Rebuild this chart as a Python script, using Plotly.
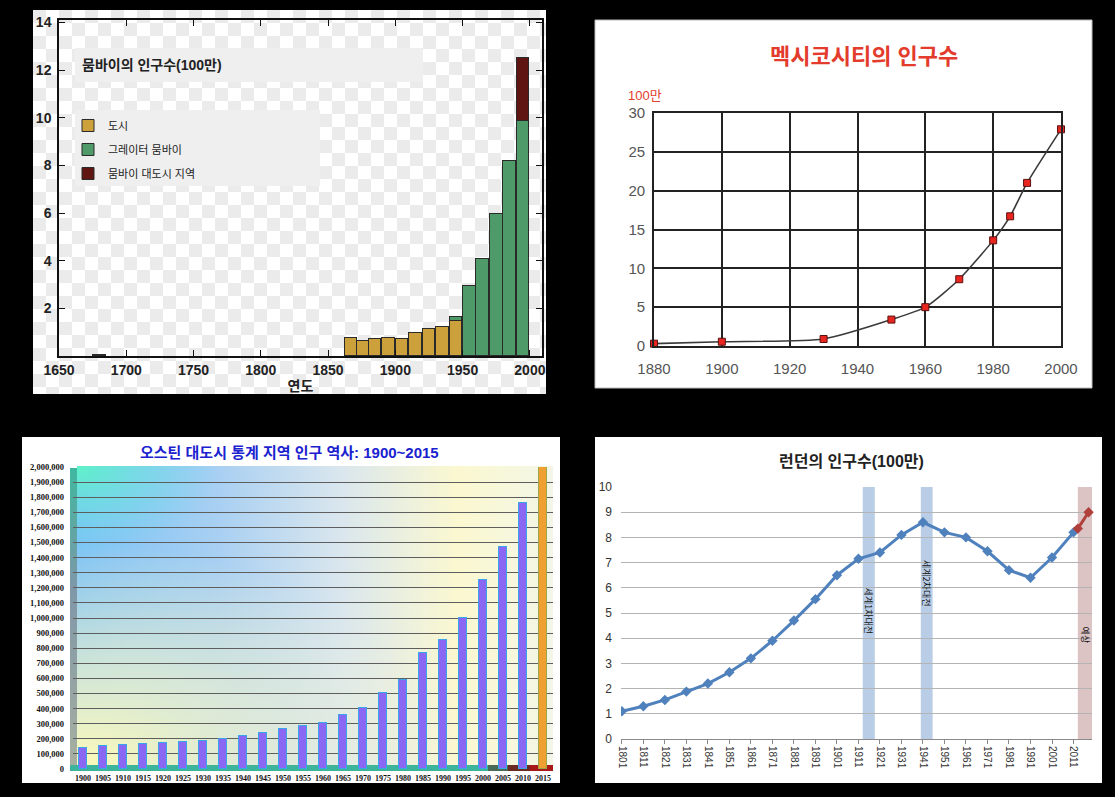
import base64
import plotly.graph_objects as go

W, H = 1115, 797

# ---------------- data ----------------
# Mumbai (millions), decade bars
mumbai_years = [1680, 1867, 1876, 1885, 1895, 1905, 1915, 1925, 1935, 1945, 1955, 1965, 1975, 1985, 1995]
mumbai_city = [0.06, 0.75, 0.65, 0.71, 0.74, 0.72, 0.98, 1.15, 1.22, 1.45, None, None, None, None, None]
mumbai_greater = [None, None, None, None, None, None, None, None, None, 0.2, 2.93, 4.09, 5.94, 8.18, 9.86]
mumbai_metro = [None, None, None, None, None, None, None, None, None, None, None, None, None, None, 2.66]
mumbai_xticks = [1650, 1700, 1750, 1800, 1850, 1900, 1950, 2000]
mumbai_yticks = [2, 4, 6, 8, 10, 12, 14]
mumbai_names = ["도시", "그레이터 뭄바이", "뭄바이 대도시 지역"]

# Mexico City (millions)
mexico_years = [1880, 1900, 1930, 1950, 1960, 1970, 1980, 1985, 1990, 2000]
mexico_pop = [0.3, 0.55, 0.9, 3.4, 5.0, 8.6, 13.6, 16.7, 21.0, 27.9]
mexico_xticks = [1880, 1900, 1920, 1940, 1960, 1980, 2000]
mexico_yticks = [0, 5, 10, 15, 20, 25, 30]

# Austin metro area
austin_years = ["1900", "1905", "1910", "1915", "1920", "1925", "1930", "1935", "1940", "1945",
                "1950", "1955", "1960", "1965", "1970", "1975", "1980", "1985", "1990", "1995",
                "2000", "2005", "2010", "2015"]
austin_pop = [140000, 155000, 162000, 168000, 175000, 181000, 188000, 196000, 217000, 240000,
              262000, 285000, 307000, 359000, 402000, 502000, 588000, 765000, 854000, 1000000,
              1252000, 1470000, 1760000, None]
austin_2015 = [None] * 23 + [2000000]
austin_yticks = list(range(0, 2000001, 100000))

# London (millions)
london_years = [1801, 1811, 1821, 1831, 1841, 1851, 1861, 1871, 1881, 1891, 1901,
                1911, 1921, 1931, 1941, 1951, 1961, 1971, 1981, 1991, 2001, 2011]
london_pop = [1.1, 1.3, 1.55, 1.88, 2.2, 2.65, 3.2, 3.9, 4.7, 5.55, 6.5,
              7.15, 7.4, 8.1, 8.6, 8.2, 8.0, 7.45, 6.7, 6.4, 7.2, 8.2]
london_proj_years = [2013, 2018]
london_proj = [8.35, 9.0]
war_spans = [(1913, 1918.6, "세계1차대전", 5.1), (1940, 1945.5, "세계2차대전", 6.2)]
proj_span = (2013, 2019.6, "예상", 4.1)

KR = "Noto Sans CJK KR"
SANS = "Liberation Sans, Noto Sans CJK KR"
SERIF = "Liberation Serif, DejaVu Serif"


def xd(a, b):
    return [a / W, b / W]


def yd(top, bottom):
    return [1 - bottom / H, 1 - top / H]


def px(x):
    return x / W


def py(y):
    return 1 - y / H


def svg_uri(svg):
    return "data:image/svg+xml;base64," + base64.b64encode(svg.encode("utf-8")).decode("ascii")


fig = go.Figure()

# ---------------- Mumbai ----------------
mum_colors = ["#cca03a", "#4f9a69", "#5f1612"]
for i, (vals, name, col) in enumerate(zip([mumbai_city, mumbai_greater, mumbai_metro], mumbai_names, mum_colors)):
    fig.add_trace(go.Bar(
        x=mumbai_years, y=vals, name=name, width=9.4,
        marker=dict(color=col, line=dict(color="#2a2a2a", width=1)),
        xaxis="x", yaxis="y", legendgroup=f"g{i}", showlegend=True,
    ))

# ---------------- Mexico ----------------
fig.add_trace(go.Scatter(
    x=mexico_years, y=mexico_pop, mode="lines+markers", cliponaxis=False,
    line=dict(color="#3a3a3a", width=1.6, shape="spline", smoothing=0.6),
    marker=dict(symbol="square", size=7, color="#e8251f", line=dict(color="#5a1010", width=1)),
    xaxis="x2", yaxis="y2", showlegend=False,
))

# ---------------- Austin ----------------
fig.add_trace(go.Bar(
    x=austin_years, y=austin_pop, width=0.44,
    marker=dict(color="#8a68f4", line=dict(color="#3aa6ea", width=1)),
    xaxis="x3", yaxis="y3", showlegend=False,
))
fig.add_trace(go.Bar(
    x=austin_years, y=austin_2015, width=0.44,
    marker=dict(color="#f0a030", line=dict(color="#9aa84a", width=1)),
    xaxis="x3", yaxis="y3", showlegend=False,
))

# ---------------- London ----------------
fig.add_trace(go.Scatter(
    x=london_years, y=london_pop, mode="lines+markers",
    line=dict(color="#4f81bd", width=3),
    marker=dict(symbol="diamond", size=8, color="#4f81bd"),
    xaxis="x4", yaxis="y4", showlegend=False,
))
fig.add_trace(go.Scatter(
    x=london_proj_years, y=london_proj, mode="lines+markers", cliponaxis=False,
    line=dict(color="#b0403c", width=3),
    marker=dict(symbol="diamond", size=8, color="#b0403c"),
    xaxis="x4", yaxis="y4", showlegend=False,
))

# ---------------- backgrounds ----------------
checker_svg = (
    '<svg xmlns="http://www.w3.org/2000/svg" width="513" height="384">'
    '<defs><pattern id="p" width="26" height="26" patternUnits="userSpaceOnUse">'
    '<rect width="26" height="26" fill="#ffffff"/>'
    '<rect width="13" height="13" fill="#ebebeb"/>'
    '<rect x="13" y="13" width="13" height="13" fill="#ebebeb"/>'
    '</pattern></defs><rect width="513" height="384" fill="url(#p)"/></svg>'
)
austin_svg = (
    '<svg xmlns="http://www.w3.org/2000/svg" width="538" height="346">'
    '<defs>'
    '<linearGradient id="h" x1="0" y1="0" x2="1" y2="0">'
    '<stop offset="0" stop-color="#7cc2f6"/><stop offset="0.3" stop-color="#a9d0f2"/>'
    '<stop offset="0.55" stop-color="#d9e6ee"/><stop offset="0.8" stop-color="#fbf8d0"/>'
    '<stop offset="1" stop-color="#f3f6e6"/></linearGradient>'
    '<radialGradient id="y" cx="0" cy="1" r="0.75">'
    '<stop offset="0" stop-color="#fffbb8" stop-opacity="1"/>'
    '<stop offset="0.5" stop-color="#fbf8c8" stop-opacity="0.6"/>'
    '<stop offset="1" stop-color="#fbf8c8" stop-opacity="0"/></radialGradient>'
    '<radialGradient id="c" cx="0" cy="0" r="0.3">'
    '<stop offset="0" stop-color="#5ff2c8" stop-opacity="1"/>'
    '<stop offset="1" stop-color="#6fd8f0" stop-opacity="0"/></radialGradient>'
    '<linearGradient id="w" x1="0" y1="0" x2="0" y2="1">'
    '<stop offset="0" stop-color="#3fb8a0"/><stop offset="0.4" stop-color="#7f97a8"/>'
    '<stop offset="1" stop-color="#a8b0a0"/></linearGradient>'
    '</defs>'
    '<rect width="538" height="346" fill="#ffffff"/>'
    '<rect x="55" y="29" width="476" height="304" fill="url(#h)"/>'
    '<rect x="55" y="29" width="476" height="304" fill="url(#y)"/>'
    '<rect x="55" y="29" width="476" height="304" fill="url(#c)"/>'
    '<rect x="48" y="31" width="7" height="302" fill="url(#w)"/>'
    '</svg>'
)
images = [
    dict(source=svg_uri(checker_svg), xref="paper", yref="paper", x=px(33), y=py(10),
         sizex=513 / W, sizey=384 / H, sizing="stretch", layer="below", xanchor="left", yanchor="top"),
    dict(source=svg_uri(austin_svg), xref="paper", yref="paper", x=px(22), y=py(437),
         sizex=538 / W, sizey=346 / H, sizing="stretch", layer="below", xanchor="left", yanchor="top"),
]

shapes = [
    # Mexico panel
    dict(type="rect", xref="paper", yref="paper", x0=px(595), x1=px(1092), y0=py(388), y1=py(20),
         fillcolor="#ffffff", line=dict(color="#bbbbbb", width=1), layer="below"),
    # London panel
    dict(type="rect", xref="paper", yref="paper", x0=px(595), x1=px(1102), y0=py(783), y1=py(437),
         fillcolor="#ffffff", line=dict(width=0), layer="below"),
    # Mumbai title / legend boxes
    dict(type="rect", xref="paper", yref="paper", x0=px(75), x1=px(423), y0=py(82), y1=py(48),
         fillcolor="#efefef", line=dict(width=0), layer="below"),
    dict(type="rect", xref="paper", yref="paper", x0=px(75), x1=px(320), y0=py(186), y1=py(110),
         fillcolor="#efefef", line=dict(width=0), layer="below"),
    # Austin floor
    dict(type="rect", xref="paper", yref="paper", x0=px(70), x1=px(527), y0=py(771), y1=py(765),
         fillcolor="#3cb49a", line=dict(width=0), layer="below"),
    dict(type="rect", xref="paper", yref="paper", x0=px(488), x1=px(508), y0=py(771), y1=py(765),
         fillcolor="#4a6a58", line=dict(width=0), layer="below"),
    dict(type="rect", xref="paper", yref="paper", x0=px(508), x1=px(530), y0=py(771), y1=py(765),
         fillcolor="#6a2a22", line=dict(width=0), layer="below"),
    dict(type="rect", xref="paper", yref="paper", x0=px(530), x1=px(553), y0=py(771), y1=py(765),
         fillcolor="#a81818", line=dict(width=0), layer="below"),
]
annotations = []
for x0, x1, label, ly in war_spans:
    shapes.append(dict(type="rect", xref="x4", yref="y4", x0=x0, x1=x1, y0=0, y1=10.28,
                       fillcolor="#b9cde6", line=dict(width=0), layer="below"))
    annotations.append(dict(x=(x0 + x1) / 2, y=ly, xref="x4", yref="y4", text=label, showarrow=False,
                            textangle=90, font=dict(family=KR, size=9, color="#111111")))
shapes.append(dict(type="rect", xref="x4", yref="y4", x0=proj_span[0], x1=proj_span[1], y0=0, y1=10.28,
                   fillcolor="#dcc4c4", line=dict(width=0), layer="below"))
annotations.append(dict(x=(proj_span[0] + proj_span[1]) / 2, y=proj_span[3], xref="x4", yref="y4",
                        text=proj_span[2], showarrow=False, textangle=90,
                        font=dict(family=KR, size=9, color="#111111")))

# titles
annotations += [
    dict(x=px(80), y=py(65), xref="paper", yref="paper", xanchor="left", yanchor="middle",
         text="뭄바이의 인구수(100만)", showarrow=False,
         font=dict(family=SANS, size=14, color="#222222", weight="bold")),
    dict(x=px(864), y=py(56), xref="paper", yref="paper", xanchor="center", yanchor="middle",
         text="멕시코시티의 인구수", showarrow=False,
         font=dict(family=SANS, size=22, color="#e33b2c", weight="bold")),
    dict(x=px(645), y=py(95), xref="paper", yref="paper", xanchor="center", yanchor="middle",
         text="100만", showarrow=False,
         font=dict(family=SANS, size=13, color="#e33b2c")),
    dict(x=px(290), y=py(452), xref="paper", yref="paper", xanchor="center", yanchor="middle",
         text="오스틴 대도시 통계 지역 인구 역사: 1900~2015", showarrow=False,
         font=dict(family=SANS, size=15, color="#1a22d0", weight="bold")),
    dict(x=px(851), y=py(461), xref="paper", yref="paper", xanchor="center", yanchor="middle",
         text="런던의 인구수(100만)", showarrow=False,
         font=dict(family=SANS, size=16, color="#222222", weight="bold")),
]

frame = dict(showline=True, linecolor="#111111", linewidth=1.5, mirror="ticks", ticks="inside",
             ticklen=6, tickcolor="#111111", showgrid=False, zeroline=False, automargin=False)

fig.update_layout(
    width=W, height=H, autosize=False,
    margin=dict(l=0, r=0, t=0, b=0, pad=0),
    paper_bgcolor="#000000", plot_bgcolor="rgba(0,0,0,0)",
    barmode="stack", bargap=0,
    images=images, shapes=shapes, annotations=annotations,
    legend=dict(x=px(68), y=py(111), xanchor="left", yanchor="top", bgcolor="rgba(0,0,0,0)",
                traceorder="grouped", tracegroupgap=5, itemclick=False,
                font=dict(family=SANS, size=11, color="#222222")),
    # Mumbai
    xaxis=dict(domain=xd(59, 542), anchor="y", range=[1650, 2009], tickvals=mumbai_xticks,
               tickfont=dict(family=SANS, size=14, color="#222222", weight="bold"),
               title=dict(text="연도", standoff=0, font=dict(family=SANS, size=14, color="#222222", weight="bold")),
               **frame),
    yaxis=dict(domain=yd(20, 356), anchor="x", range=[0, 14.1], tickvals=mumbai_yticks,
               ticklabelstandoff=3,
               tickfont=dict(family=SANS, size=14, color="#222222", weight="bold"), **frame),
    # Mexico
    xaxis2=dict(domain=xd(654, 1061), anchor="y2", range=[1880, 2000], tickvals=mexico_xticks,
                showgrid=True, gridcolor="#222222", gridwidth=1.6, zeroline=False,
                showline=True, linecolor="#222222", linewidth=1.6, mirror=True, ticks="",
                ticklabelstandoff=8, automargin=False,
                tickfont=dict(family=SANS, size=15, color="#555555")),
    yaxis2=dict(domain=yd(113, 346), anchor="x2", range=[0, 30], tickvals=mexico_yticks,
                showgrid=True, gridcolor="#222222", gridwidth=1.6, zeroline=False,
                showline=True, linecolor="#222222", linewidth=1.6, mirror=True, ticks="",
                ticklabelstandoff=4, automargin=False,
                tickfont=dict(family=SANS, size=15, color="#555555")),
    # Austin
    xaxis3=dict(domain=xd(73, 553), anchor="y3", type="category", showgrid=False, zeroline=False,
                showline=False, ticks="", automargin=False, ticklabelstandoff=3,
                tickfont=dict(family=SERIF, size=8, color="#111111", weight="bold")),
    yaxis3=dict(domain=yd(467, 769), anchor="x3", range=[0, 2000000], tickvals=austin_yticks,
                tickformat=",d", showgrid=True, gridcolor="#5e5e5e", gridwidth=1.4, zeroline=False,
                showline=False, ticks="", automargin=False, ticklabelstandoff=8,
                tickfont=dict(family=SERIF, size=8.5, color="#111111", weight="bold")),
    # London
    xaxis4=dict(domain=xd(621, 1092), anchor="y4", range=[1800.6, 2019.6], tickvals=london_years,
                tickangle=90, showgrid=False, zeroline=False, showline=True, linecolor="#8a8a8a",
                linewidth=1, ticks="outside", ticklen=4, tickcolor="#8a8a8a", automargin=False,
                tickfont=dict(family=SANS, size=10, color="#333333")),
    yaxis4=dict(domain=yd(487, 739), anchor="x4", range=[0, 10], dtick=1,
                showgrid=True, gridcolor="#b4b4b4", gridwidth=1.4, zeroline=False, showline=False,
                ticks="", automargin=False, ticklabelstandoff=8,
                tickfont=dict(family=SANS, size=12, color="#333333")),
)

fig.write_html("out.html", config={"displayModeBar": False},
               post_script="document.body.style.margin='0';document.body.style.overflow='hidden';")
